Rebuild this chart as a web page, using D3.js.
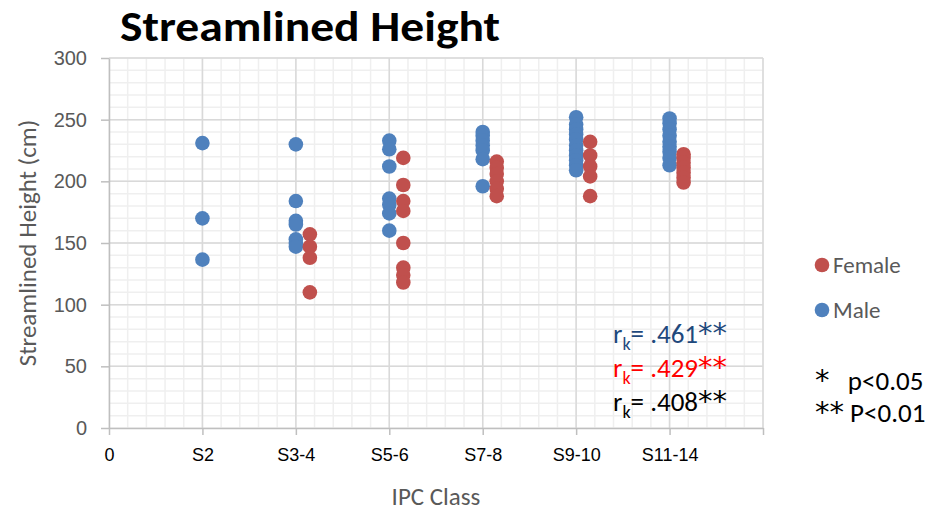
<!DOCTYPE html>
<html>
<head>
<meta charset="utf-8">
<script src="https://cdn.jsdelivr.net/npm/d3@7"></script>
<style>
  body { margin: 0; background: #fff; }
  svg { font-family: Carlito, Calibri, Lato, sans-serif; }
</style>
</head>
<body>
<div id="chart"></div>
<script>
const width = 952,
      height = 512,
      margin = { top: 58, right: 189, bottom: 84, left: 109 };

// categories on the x axis (positions 1..6), tick labels for 0..7
const categories = ['S2', 'S3-4', 'S5-6', 'S7-8', 'S9-10', 'S11-14'];
const xTickLabels = ['0', 'S2', 'S3-4', 'S5-6', 'S7-8', 'S9-10', 'S11-14', ''];
const yTicks = [0, 50, 100, 150, 200, 250, 300];

// streamlined height (cm) per category
const maleHeights = [
    [231, 170, 136.5],
    [230, 184, 168, 165, 153, 150, 147],
    [233, 226, 212, 186, 181, 174, 160],
    [240, 237, 233, 229, 225, 218, 196],
    [252, 246, 242, 238, 234, 229, 225, 221, 217, 213, 209],
    [251, 247, 242, 237, 232, 228, 224, 219, 213]
];
const femaleHeights = [
    [],
    [157, 147, 138, 110],
    [219, 197, 184, 176, 150, 130, 124, 118],
    [216, 211, 206, 200, 194, 188],
    [232, 221, 212, 204, 188],
    [222, 219, 215, 211, 207, 203, 199]
];
const femaleOffset = 0.15;

const series = ['Female', 'Male'];
const color = d3.scaleOrdinal().domain(series).range(['#c0504d', '#4f81bd']);

const correlations = [
    { label: '.461', stars: '**', color: '#1f497d' },
    { label: '.429', stars: '**', color: '#ff0000' },
    { label: '.408', stars: '**', color: '#000000' }
];
const sigNotes = [
    { stars: '*', text: '   p<0.05' },
    { stars: '**', text: ' P<0.01' }
];

const x = d3.scaleLinear().domain([0, 7]).range([margin.left, width - margin.right]);
const y = d3.scaleLinear().domain([0, 300]).range([height - margin.bottom, margin.top]);

const svg = d3.select('#chart').append('svg')
    .attr('width', width)
    .attr('height', height);

// minor gridlines
svg.append('g')
    .selectAll('line')
    .data(d3.range(0, 7.001, 0.2))
    .enter().append('line')
    .attr('x1', d => x(d)).attr('x2', d => x(d))
    .attr('y1', y(0)).attr('y2', y(300))
    .attr('stroke', '#efefef').attr('stroke-width', 1.5);

svg.append('g')
    .selectAll('line')
    .data(d3.range(0, 301, 10))
    .enter().append('line')
    .attr('x1', x(0)).attr('x2', x(7))
    .attr('y1', d => y(d)).attr('y2', d => y(d))
    .attr('stroke', '#efefef').attr('stroke-width', 1.5);

// major gridlines
svg.append('g')
    .selectAll('line')
    .data(d3.range(1, 8))
    .enter().append('line')
    .attr('x1', d => x(d)).attr('x2', d => x(d))
    .attr('y1', y(0)).attr('y2', y(300))
    .attr('stroke', '#d9d9d9').attr('stroke-width', 1.5);

svg.append('g')
    .selectAll('line')
    .data(yTicks.slice(1))
    .enter().append('line')
    .attr('x1', x(0)).attr('x2', x(7))
    .attr('y1', d => y(d)).attr('y2', d => y(d))
    .attr('stroke', '#d9d9d9').attr('stroke-width', 1.5);

// X-axis
const xAxis = svg.append('g')
    .attr('transform', `translate(0,${y(0)})`)
    .call(d3.axisBottom(x).tickValues(d3.range(0, 8)).tickSize(7).tickSizeOuter(0)
        .tickFormat(d => xTickLabels[d]));
xAxis.select('.domain').attr('stroke', '#bfbfbf').attr('stroke-width', 1.5);
xAxis.selectAll('.tick line').attr('stroke', '#bfbfbf').attr('stroke-width', 1.5);
xAxis.selectAll('.tick text')
    .attr('y', 20)
    .attr('fill', '#000')
    .style('font-size', '18px');

// Y-axis
const yAxis = svg.append('g')
    .attr('transform', `translate(${x(0)},0)`)
    .call(d3.axisLeft(y).tickValues(yTicks).tickSize(8).tickSizeOuter(0));
yAxis.select('.domain').attr('stroke', '#bfbfbf').attr('stroke-width', 1.5);
yAxis.selectAll('.tick line').attr('stroke', '#bfbfbf').attr('stroke-width', 1.5);
yAxis.selectAll('.tick text')
    .attr('x', -22)
    .attr('fill', '#595959')
    .style('font-size', '20px');

// axis titles
svg.append('text')
    .attr('x', 436).attr('y', 505)
    .attr('text-anchor', 'middle')
    .attr('fill', '#595959')
    .style('font-size', '25px')
    .text('IPC Class');

svg.append('text')
    .attr('transform', `translate(36,${y(150)}) rotate(-90)`)
    .attr('text-anchor', 'middle')
    .attr('fill', '#595959')
    .style('font-size', '25px')
    .text('Streamlined Height (cm)');

// title
svg.append('text')
    .attr('x', 120).attr('y', 41)
    .attr('fill', '#000')
    .attr('textLength', 380)
    .attr('lengthAdjust', 'spacingAndGlyphs')
    .style('font-size', '43px')
    .style('font-weight', 'bold')
    .text('Streamlined Height');

// points
const points = [];
categories.forEach((c, i) => {
    maleHeights[i].forEach(v => points.push({ s: 'Male', x: i + 1, v }));
    femaleHeights[i].forEach(v => points.push({ s: 'Female', x: i + 1 + femaleOffset, v }));
});

svg.append('g')
    .selectAll('circle')
    .data(points)
    .enter().append('circle')
    .attr('cx', d => x(d.x))
    .attr('cy', d => y(d.v))
    .attr('r', 7.3)
    .attr('fill', d => color(d.s));

// Legend
const legend = svg.append('g').attr('transform', 'translate(822,265)');
series.forEach((s, i) => {
    const row = legend.append('g').attr('transform', `translate(0,${i * 45})`);
    row.append('circle').attr('r', 7.3).attr('fill', color(s));
    row.append('text')
        .attr('x', 11).attr('y', 8)
        .attr('fill', '#595959')
        .style('font-size', '23px')
        .text(s);
});

// larger asterisks, closer to Calibri's
function addStars(t, stars) {
    t.append('tspan')
        .style('font-size', '29px')
        .style('font-family', '"DejaVu Sans", sans-serif')
        .text(stars);
}

// correlation annotations
correlations.forEach((c, i) => {
    const t = svg.append('text')
        .attr('x', 613).attr('y', 343 + i * 34)
        .attr('fill', c.color)
        .style('font-size', '27px');
    t.append('tspan').text('r');
    t.append('tspan').attr('dy', 7).style('font-size', '18px').text('k');
    t.append('tspan').attr('dy', -7).text('= ' + c.label);
    addStars(t, c.stars);
});

sigNotes.forEach((s, i) => {
    const t = svg.append('text')
        .attr('x', 815).attr('y', 390 + i * 32)
        .attr('fill', '#000')
        .attr('xml:space', 'preserve')
        .style('white-space', 'pre')
        .style('font-size', '27px');
    addStars(t, s.stars);
    t.append('tspan').text(s.text);
});
</script>
</body>
</html>
